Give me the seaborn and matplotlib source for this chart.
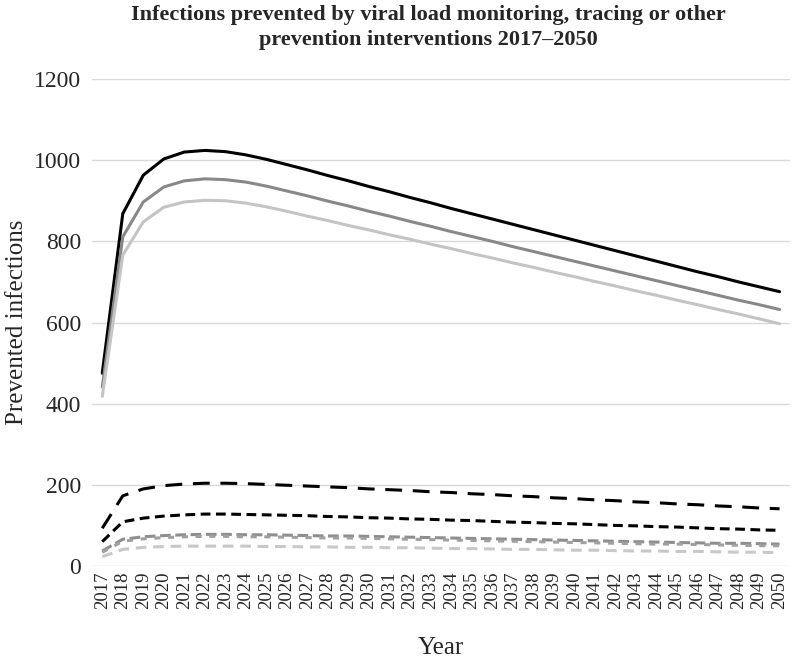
"""Infections prevented by viral load monitoring, tracing or other prevention
interventions, 2017-2050."""

import matplotlib

matplotlib.use("Agg")
import matplotlib.pyplot as plt
import pandas as pd
import seaborn as sns

years = list(range(2017, 2051))

# solid lines
solid_black = [475, 868, 963, 1003, 1020, 1024, 1021, 1013, 1002, 989, 976, 962,
               949, 935, 922, 908, 895, 881, 868, 855, 842, 829, 816, 803, 790,
               777, 764, 751, 738, 725, 713, 700, 688, 676]
solid_gray = [441, 811, 897, 934, 949, 954, 952, 946, 936, 924, 912, 899, 887,
              874, 862, 849, 837, 824, 812, 800, 787, 775, 763, 751, 739, 727,
              715, 703, 691, 679, 667, 655, 644, 632]
solid_light = [418, 766, 848, 884, 897, 901, 900, 894, 885, 874, 862, 851, 839,
               828, 816, 805, 793, 782, 770, 759, 747, 736, 724, 713, 701, 690,
               678, 667, 655, 644, 632, 621, 609, 597]

# dashed lines
dash_black_long = [93, 173, 190, 198, 202, 204, 204, 203, 201, 199, 197, 195,
                   193, 190, 188, 186, 183, 181, 178, 176, 173, 171, 168, 166,
                   163, 161, 158, 156, 153, 151, 148, 146, 143, 141]
dash_black_short = [60, 109, 118, 123, 126, 128, 128, 127, 126, 125, 124, 122,
                    121, 119, 118, 116, 115, 113, 112, 110, 108, 107, 105, 104,
                    102, 100, 99, 97, 96, 94, 92, 91, 89, 88]
dash_gray_a = [37, 66, 72, 75, 77, 78, 78, 77, 77, 76, 75, 74, 74, 73, 72, 71,
               70, 69, 68, 67, 66, 65, 64, 63, 62, 61, 60, 59, 58, 57, 56, 56,
               55, 54]
dash_gray_b = [34, 61, 67, 70, 72, 73, 73, 72, 72, 71, 70, 69, 69, 68, 67, 66,
               65, 64, 63, 62, 61, 60, 59, 58, 57, 56, 55, 54, 54, 53, 52, 51,
               50, 50]
dash_light = [23, 41, 46, 48, 49, 49, 49, 49, 48, 48, 47, 47, 46, 46, 45, 45,
              44, 43, 43, 42, 41, 41, 40, 39, 39, 38, 37, 37, 36, 36, 35, 34,
              34, 33]

series = {
    "solid_black": solid_black,
    "solid_gray": solid_gray,
    "solid_light": solid_light,
    "dash_black_long": dash_black_long,
    "dash_black_short": dash_black_short,
    "dash_gray_a": dash_gray_a,
    "dash_gray_b": dash_gray_b,
    "dash_light": dash_light,
}

palette = {
    "solid_black": "#000000",
    "solid_gray": "#888888",
    "solid_light": "#c4c4c4",
    "dash_black_long": "#000000",
    "dash_black_short": "#000000",
    "dash_gray_a": "#8e8e8e",
    "dash_gray_b": "#a0a0a0",
    "dash_light": "#c8c8c8",
}
dashes = {
    "solid_black": "",
    "solid_gray": "",
    "solid_light": "",
    "dash_black_long": (5.5, 3.5),
    "dash_black_short": (3.2, 1.8),
    "dash_gray_a": (3.5, 1.5),
    "dash_gray_b": (2, 2.5),
    "dash_light": (3.5, 2.2),
}

df = pd.concat(
    [pd.DataFrame({"year": years, "value": v, "series": k}) for k, v in series.items()],
    ignore_index=True,
)

sns.set_style("white")
serif = ["Liberation Serif", "DejaVu Serif"]
plt.rcParams["font.family"] = serif

fig = plt.figure(figsize=(7.93, 6.61), dpi=100)
ax = fig.add_axes([0.116, 0.1437, 0.88, 0.7368])

sns.lineplot(data=df, x="year", y="value", hue="series", style="series",
             palette=palette, dashes=dashes, linewidth=2.2, legend=False, ax=ax)

ax.set_xlim(2016.5, 2050.5)
ax.set_ylim(0, 1200)
ax.set_yticks(range(0, 1201, 200))
ax.set_xticks(years)
ax.set_xticklabels([str(y) for y in years], rotation=90, fontsize=13.5)
ax.tick_params(axis="y", labelsize=17, length=0, pad=8)
ax.tick_params(axis="x", length=0, pad=4)
ax.grid(axis="y", color="#d9d9d9", linewidth=1)
ax.set_axisbelow(True)
for s in ax.spines.values():
    s.set_visible(False)

ax.set_xlabel("Year", fontsize=18, labelpad=20)
ax.set_ylabel("Prevented infections", fontsize=18, labelpad=4)
fig.suptitle("Infections prevented by viral load monitoring, tracing or other\n"
             "prevention interventions 2017\u20132050",
             fontsize=16, fontweight="bold", y=0.992, x=0.54, linespacing=1.3)

fig.savefig("out.png", dpi=100)
